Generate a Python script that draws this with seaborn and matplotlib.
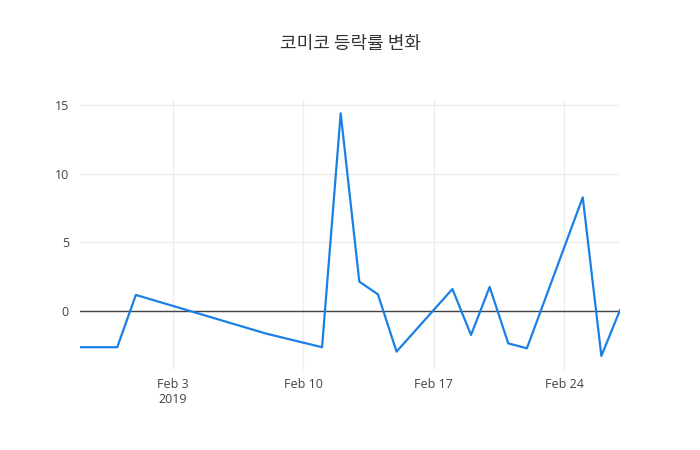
import matplotlib
matplotlib.use("Agg")
import matplotlib.pyplot as plt
import seaborn as sns
import pandas as pd
import numpy as np

title = "코미코 등락률 변화"
dates = ["2019-01-29", "2019-01-31", "2019-02-01", "2019-02-08", "2019-02-11",
         "2019-02-12", "2019-02-13", "2019-02-14", "2019-02-15", "2019-02-18",
         "2019-02-19", "2019-02-20", "2019-02-21", "2019-02-22", "2019-02-25",
         "2019-02-26", "2019-02-27"]
rates = [-2.64, -2.64, 1.17, -1.65, -2.64,
         14.4, 2.14, 1.21, -2.96, 1.6,
         -1.75, 1.75, -2.36, -2.72, 8.28,
         -3.28, 0.07]
xtick_dates = ["2019-02-03", "2019-02-10", "2019-02-17", "2019-02-24"]
xtick_labels = ["Feb 3\n2019", "Feb 10", "Feb 17", "Feb 24"]
ytick_vals = [0, 5, 10, 15]

df = pd.DataFrame({"date": pd.to_datetime(dates), "rate": rates})

sns.set_theme(style="white")
plt.rcParams["font.family"] = ["Open Sans", "DejaVu Sans"]

fig = plt.figure(figsize=(7, 4.5), dpi=100)
ax = fig.add_axes([80/700, 80/450, 540/700, 270/450])

ax.axhline(0, color="#444444", linewidth=1, zorder=1)
sns.lineplot(data=df, x="date", y="rate", ax=ax, color="#1a80e6",
             linewidth=1.6, zorder=3)

ax.set_xlim(pd.Timestamp(dates[0]), pd.Timestamp(dates[-1]))
ax.set_ylim(-4.3, 15.37)
ax.set_xticks(pd.to_datetime(xtick_dates))
ax.set_xticklabels(xtick_labels)
ax.set_yticks(ytick_vals)
ax.grid(True, color="#eeeeee", linewidth=1)
ax.set_axisbelow(True)
for s in ax.spines.values():
    s.set_visible(False)
ax.tick_params(axis="both", length=0, labelsize=9, colors="#444444", pad=6)
ax.tick_params(axis="y", pad=8)
ax.set_xlabel("")
ax.set_ylabel("")

fig.text(350/700, 1 - 44/450, title, ha="center", va="center", fontsize=13,
         color="#333333", family=["Noto Sans CJK KR", "DejaVu Sans"])

fig.savefig("out.png", dpi=100)
